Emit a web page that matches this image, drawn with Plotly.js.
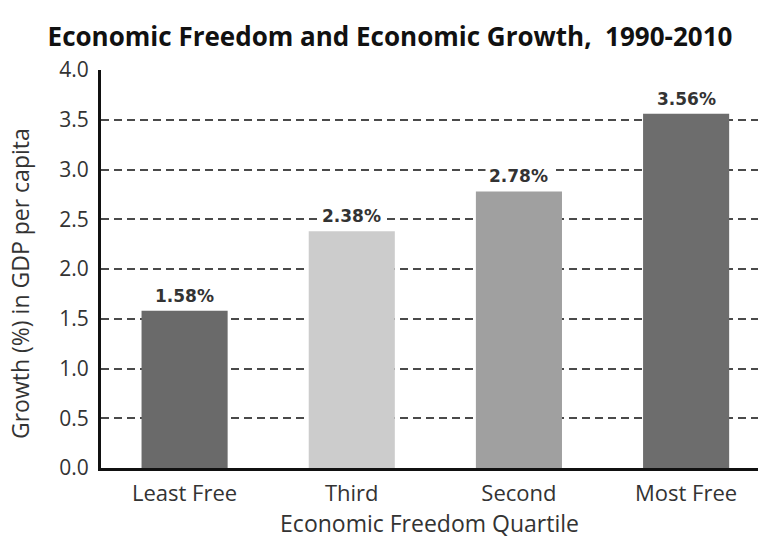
<!DOCTYPE html>
<html>
<head>
<meta charset="utf-8">
<script src="https://cdn.plot.ly/plotly-3.0.1.min.js"></script>
<style>html,body{margin:0;padding:0;background:#fff;}#chart{width:758px;height:545px;}</style>
</head>
<body>
<div id="chart"></div>
<script>
const categories = ["Least Free", "Third", "Second", "Most Free"];
const growth = [1.58, 2.38, 2.78, 3.56];
const barColors = ["#6a6a6a", "#cccccc", "#a0a0a0", "#6d6d6d"];
const yTicks = [0, 0.5, 1.0, 1.5, 2.0, 2.5, 3.0, 3.5, 4.0];

const trace = {
  type: "bar",
  x: categories,
  y: growth,
  marker: {color: barColors, line: {width: 0}},
  width: 0.515,
  hoverinfo: "none"
};

const labelAnnotations = categories.map((c, i) => ({
  x: c, y: growth[i], xref: "x", yref: "y",
  text: "<b>" + growth[i].toFixed(2) + "%</b>",
  showarrow: false, yanchor: "middle", yshift: 15,
  bgcolor: "#ffffff", borderpad: 3,
  font: {family: "DejaVu Sans, sans-serif", size: 17, color: "#333333"}
}));

const yTitle = {
  xref: "paper", yref: "paper",
  x: -81/657, xanchor: "center",
  y: (468 - 284) / 398, yanchor: "middle",
  text: "Growth (%) in GDP per capita", textangle: -90, showarrow: false,
  font: {family: "Open Sans, sans-serif", size: 23, color: "#333333"}
};

const layout = {
  width: 758, height: 545,
  margin: {l: 101, r: 0, t: 70, b: 77},
  paper_bgcolor: "#ffffff", plot_bgcolor: "#ffffff",
  showlegend: false,
  title: {
    text: "<b>Economic Freedom and Economic Growth,  1990-2010</b>",
    font: {family: "Open Sans, sans-serif", size: 26, color: "#111111"},
    x: 390/758, xanchor: "center", y: 1 - 37/545, yanchor: "middle"
  },
  xaxis: {
    range: [-0.5, 3.43],
    showgrid: false, zeroline: false,
    showline: true, linecolor: "#111111", linewidth: 3,
    ticks: "", ticklabelstandoff: 4,
    tickfont: {family: "Open Sans, sans-serif", size: 22, color: "#333333"},
    title: {text: "Economic Freedom Quartile", standoff: 10,
            font: {family: "Open Sans, sans-serif", size: 23, color: "#333333"}}
  },
  yaxis: {
    range: [0, 4.0],
    tickvals: yTicks,
    ticktext: yTicks.map(v => v.toFixed(1)),
    showgrid: true, gridcolor: "#4a4a4a", gridwidth: 2, griddash: "8px,5px",
    zeroline: false,
    showline: true, linecolor: "#111111", linewidth: 3,
    ticks: "", ticklabelstandoff: 5,
    tickfont: {family: "Open Sans, sans-serif", size: 21, color: "#333333"}
  },
  annotations: labelAnnotations.concat([yTitle]),
  bargap: 0.487
};

Plotly.newPlot("chart", [trace], layout, {displayModeBar: false, staticPlot: true});
</script>
</body>
</html>
